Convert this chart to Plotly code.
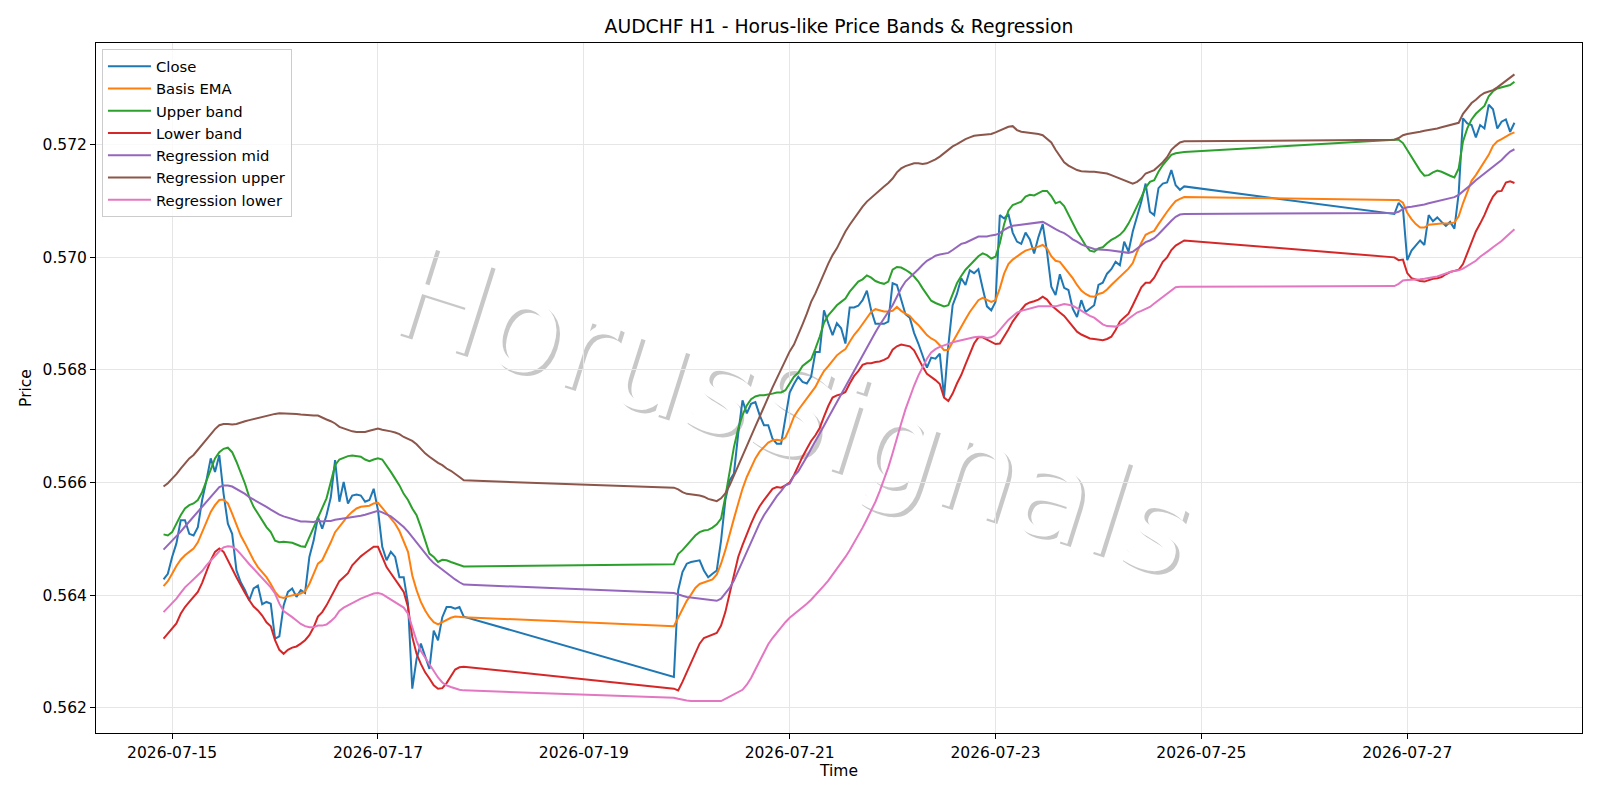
import pandas as pd
import plotly.graph_objects as go

# ---- time index: three trading blocks of hourly bars ----
seg_starts = ["2026-07-14 22:00", "2026-07-19 21:00", "2026-07-26 21:00"]
seg_lengths = [71, 120, 29]

# ---- series values ----
close = [
    0.56428, 0.56438, 0.56468, 0.56492, 0.56533, 0.56533, 0.56509, 0.56506, 0.56521, 0.56569,
    0.56604, 0.56643, 0.56619, 0.56649, 0.56580, 0.56527, 0.56509, 0.56444, 0.56423, 0.56409,
    0.56391, 0.56412, 0.56417, 0.56384, 0.56388, 0.56385, 0.56323, 0.56327, 0.56382, 0.56406,
    0.56412, 0.56397, 0.56409, 0.56404, 0.56468, 0.56497, 0.56539, 0.56518, 0.56542, 0.56574,
    0.56640, 0.56566, 0.56601, 0.56563, 0.56577, 0.56579, 0.56577, 0.56566, 0.56569, 0.56589,
    0.56551, 0.56486, 0.56462, 0.56477, 0.56468, 0.56432, 0.56432, 0.56385, 0.56234, 0.56287,
    0.56314, 0.56290, 0.56269, 0.56337, 0.56320, 0.56361, 0.56379, 0.56379, 0.56376, 0.56379,
    0.56362,
    0.56255, 0.56409, 0.56441, 0.56456, 0.56459, 0.56460, 0.56462, 0.56444, 0.56432, 0.56438,
    0.56444, 0.56497, 0.56569, 0.56604, 0.56616, 0.56687, 0.56746, 0.56723, 0.56740, 0.56743,
    0.56720, 0.56702, 0.56702, 0.56678, 0.56669, 0.56669, 0.56717, 0.56760, 0.56775, 0.56788,
    0.56779, 0.56776, 0.56788, 0.56832, 0.56832, 0.56906, 0.56883, 0.56862, 0.56883, 0.56874,
    0.56847, 0.56911, 0.56911, 0.56914, 0.56924, 0.56941, 0.56906, 0.56882, 0.56882, 0.56882,
    0.56886, 0.56954, 0.56951, 0.56927, 0.56899, 0.56893, 0.56866, 0.56847, 0.56825, 0.56804,
    0.56822, 0.56820, 0.56829, 0.56752, 0.56844, 0.56915, 0.56935, 0.56963, 0.56951, 0.56977,
    0.56972, 0.56979, 0.56945, 0.56913, 0.56906, 0.56921, 0.57075, 0.57069, 0.57077, 0.57044,
    0.57028, 0.57024, 0.57044, 0.57032, 0.57007, 0.57036, 0.57059, 0.57010, 0.56948, 0.56933,
    0.56970, 0.56946, 0.56942, 0.56909, 0.56894, 0.56924, 0.56903, 0.56909, 0.56915, 0.56951,
    0.56955, 0.56971, 0.56979, 0.56992, 0.56986, 0.57028, 0.57010, 0.57046, 0.57072, 0.57099,
    0.57131, 0.57081, 0.57075, 0.57123, 0.57131, 0.57133, 0.57155, 0.57128, 0.57120, 0.57126,
    0.57077, 0.57097, 0.57087, 0.56995, 0.57012, 0.57022, 0.57030, 0.57022, 0.57075, 0.57064,
    0.57071, 0.57063, 0.57056, 0.57063, 0.57051, 0.57114, 0.57247, 0.57238, 0.57235, 0.57213,
    0.57235, 0.57229, 0.57271, 0.57263, 0.57229, 0.57241, 0.57245, 0.57223, 0.57239,
]

basis_ema = [
    0.56416, 0.56425, 0.56438, 0.56452, 0.56463, 0.56471, 0.56477, 0.56483, 0.56494, 0.56512,
    0.56530, 0.56548, 0.56560, 0.56569, 0.56570, 0.56563, 0.56545, 0.56524, 0.56506, 0.56492,
    0.56477, 0.56462, 0.56450, 0.56441, 0.56432, 0.56420, 0.56406, 0.56397, 0.56395, 0.56398,
    0.56400, 0.56401, 0.56403, 0.56407, 0.56420, 0.56438, 0.56456, 0.56462, 0.56477, 0.56494,
    0.56512, 0.56522, 0.56532, 0.56541, 0.56548, 0.56554, 0.56557, 0.56558, 0.56559, 0.56563,
    0.56564, 0.56555, 0.56546, 0.56538, 0.56527, 0.56514, 0.56497, 0.56477, 0.56435, 0.56409,
    0.56388, 0.56373, 0.56361, 0.56352, 0.56348, 0.56352, 0.56355, 0.56360, 0.56362, 0.56362,
    0.56361,
    0.56345, 0.56361, 0.56376, 0.56390, 0.56401, 0.56413, 0.56420, 0.56423, 0.56425, 0.56428,
    0.56437, 0.56456, 0.56480, 0.56506, 0.56536, 0.56563, 0.56589, 0.56610, 0.56628, 0.56643,
    0.56655, 0.56663, 0.56671, 0.56675, 0.56676, 0.56675, 0.56680, 0.56697, 0.56717, 0.56729,
    0.56739, 0.56748, 0.56758, 0.56770, 0.56785, 0.56798, 0.56807, 0.56816, 0.56826, 0.56832,
    0.56837, 0.56850, 0.56862, 0.56871, 0.56882, 0.56894, 0.56903, 0.56908, 0.56906, 0.56904,
    0.56904, 0.56905, 0.56912, 0.56905, 0.56900, 0.56896, 0.56887, 0.56880, 0.56871, 0.56862,
    0.56856, 0.56852, 0.56844, 0.56835, 0.56836, 0.56850, 0.56864, 0.56877, 0.56890, 0.56903,
    0.56913, 0.56924, 0.56928, 0.56925, 0.56921, 0.56924, 0.56945, 0.56971, 0.56988, 0.56996,
    0.57002, 0.57007, 0.57012, 0.57014, 0.57016, 0.57019, 0.57022, 0.57016, 0.57002, 0.56994,
    0.56992, 0.56983, 0.56973, 0.56963, 0.56951, 0.56941, 0.56935, 0.56931, 0.56930, 0.56935,
    0.56937, 0.56943, 0.56951, 0.56958, 0.56966, 0.56973, 0.56980, 0.56990, 0.57010, 0.57026,
    0.57040, 0.57044, 0.57047, 0.57059, 0.57071, 0.57081, 0.57091, 0.57100, 0.57104, 0.57107,
    0.57102, 0.57102, 0.57097, 0.57079, 0.57068, 0.57059, 0.57053, 0.57053, 0.57058, 0.57059,
    0.57060, 0.57060, 0.57060, 0.57060, 0.57062, 0.57073, 0.57096, 0.57117, 0.57136, 0.57146,
    0.57158, 0.57170, 0.57182, 0.57198, 0.57206, 0.57210, 0.57215, 0.57219, 0.57222,
]

upper_band = [
    0.56508, 0.56506, 0.56512, 0.56527, 0.56542, 0.56554, 0.56560, 0.56563, 0.56569, 0.56583,
    0.56604, 0.56625, 0.56643, 0.56654, 0.56660, 0.56662, 0.56654, 0.56637, 0.56619, 0.56598,
    0.56574, 0.56557, 0.56545, 0.56533, 0.56521, 0.56512, 0.56497, 0.56494, 0.56495, 0.56494,
    0.56493, 0.56490, 0.56487, 0.56486, 0.56503, 0.56521, 0.56540, 0.56557, 0.56572, 0.56601,
    0.56631, 0.56641, 0.56644, 0.56647, 0.56648, 0.56647, 0.56646, 0.56641, 0.56638, 0.56641,
    0.56643, 0.56641, 0.56631, 0.56619, 0.56607, 0.56595, 0.56580, 0.56569, 0.56554, 0.56542,
    0.56521, 0.56497, 0.56474, 0.56468, 0.56459, 0.56463, 0.56462, 0.56459, 0.56456, 0.56453,
    0.56451,
    0.56455, 0.56473, 0.56480, 0.56489, 0.56499, 0.56506, 0.56512, 0.56515, 0.56516, 0.56520,
    0.56526, 0.56536, 0.56575, 0.56622, 0.56663, 0.56696, 0.56720, 0.56737, 0.56748, 0.56753,
    0.56755, 0.56755, 0.56756, 0.56758, 0.56760, 0.56760, 0.56764, 0.56777, 0.56788, 0.56795,
    0.56807, 0.56813, 0.56819, 0.56838, 0.56859, 0.56884, 0.56897, 0.56906, 0.56915, 0.56921,
    0.56927, 0.56939, 0.56949, 0.56957, 0.56961, 0.56968, 0.56964, 0.56958, 0.56955, 0.56953,
    0.56957, 0.56978, 0.56983, 0.56982, 0.56978, 0.56973, 0.56966, 0.56957, 0.56945, 0.56933,
    0.56923, 0.56919, 0.56916, 0.56913, 0.56915, 0.56936, 0.56954, 0.56967, 0.56978, 0.56986,
    0.56995, 0.57002, 0.57007, 0.57004, 0.56998, 0.57001, 0.57025, 0.57059, 0.57083, 0.57093,
    0.57096, 0.57099, 0.57108, 0.57111, 0.57110, 0.57114, 0.57118, 0.57118, 0.57109, 0.57096,
    0.57099, 0.57091, 0.57075, 0.57060, 0.57046, 0.57034, 0.57021, 0.57012, 0.57010, 0.57016,
    0.57018, 0.57025, 0.57031, 0.57035, 0.57040, 0.57048, 0.57060, 0.57075, 0.57090, 0.57107,
    0.57124, 0.57134, 0.57137, 0.57152, 0.57164, 0.57173, 0.57182, 0.57185, 0.57186, 0.57187,
    0.57209, 0.57209, 0.57203, 0.57191, 0.57179, 0.57166, 0.57154, 0.57145, 0.57146, 0.57151,
    0.57154, 0.57152, 0.57148, 0.57145, 0.57142, 0.57158, 0.57206, 0.57229, 0.57245, 0.57255,
    0.57262, 0.57269, 0.57286, 0.57295, 0.57300, 0.57302, 0.57303, 0.57306, 0.57312,
]

lower_band = [
    0.56323, 0.56332, 0.56340, 0.56350, 0.56367, 0.56379, 0.56388, 0.56397, 0.56406, 0.56422,
    0.56441, 0.56462, 0.56477, 0.56483, 0.56477, 0.56463, 0.56447, 0.56432, 0.56417, 0.56404,
    0.56391, 0.56380, 0.56373, 0.56364, 0.56352, 0.56345, 0.56320, 0.56303, 0.56296, 0.56303,
    0.56307, 0.56309, 0.56314, 0.56320, 0.56329, 0.56343, 0.56362, 0.56370, 0.56382, 0.56397,
    0.56410, 0.56425, 0.56432, 0.56439, 0.56453, 0.56462, 0.56469, 0.56475, 0.56481, 0.56486,
    0.56486, 0.56469, 0.56450, 0.56439, 0.56429, 0.56417, 0.56406, 0.56379, 0.56326, 0.56296,
    0.56278, 0.56263, 0.56252, 0.56240, 0.56234, 0.56235, 0.56244, 0.56257, 0.56268, 0.56272,
    0.56273,
    0.56234, 0.56231, 0.56246, 0.56263, 0.56281, 0.56299, 0.56314, 0.56324, 0.56327, 0.56329,
    0.56333, 0.56346, 0.56370, 0.56403, 0.56435, 0.56468, 0.56489, 0.56509, 0.56527, 0.56544,
    0.56558, 0.56569, 0.56579, 0.56589, 0.56592, 0.56591, 0.56595, 0.56600, 0.56613, 0.56631,
    0.56646, 0.56660, 0.56674, 0.56684, 0.56697, 0.56717, 0.56736, 0.56751, 0.56755, 0.56757,
    0.56761, 0.56776, 0.56789, 0.56798, 0.56809, 0.56812, 0.56812, 0.56814, 0.56815, 0.56818,
    0.56822, 0.56836, 0.56842, 0.56845, 0.56844, 0.56842, 0.56835, 0.56820, 0.56806, 0.56793,
    0.56788, 0.56782, 0.56775, 0.56751, 0.56745, 0.56758, 0.56776, 0.56791, 0.56810, 0.56829,
    0.56847, 0.56858, 0.56858, 0.56854, 0.56850, 0.56846, 0.56847, 0.56859, 0.56872, 0.56886,
    0.56897, 0.56907, 0.56916, 0.56920, 0.56922, 0.56925, 0.56930, 0.56925, 0.56915, 0.56908,
    0.56902, 0.56896, 0.56887, 0.56878, 0.56868, 0.56863, 0.56859, 0.56856, 0.56855, 0.56854,
    0.56853, 0.56855, 0.56859, 0.56871, 0.56886, 0.56893, 0.56900, 0.56915, 0.56930, 0.56947,
    0.56955, 0.56955, 0.56964, 0.56979, 0.56992, 0.57000, 0.57013, 0.57021, 0.57026, 0.57030,
    0.57000, 0.56995, 0.56996, 0.56972, 0.56963, 0.56960, 0.56958, 0.56957, 0.56960, 0.56962,
    0.56963, 0.56965, 0.56970, 0.56974, 0.56976, 0.56978, 0.56988, 0.57007, 0.57028, 0.57046,
    0.57060, 0.57075, 0.57093, 0.57108, 0.57117, 0.57118, 0.57133, 0.57135, 0.57132,
]

regression_mid = [
    0.56481, 0.56489, 0.56496, 0.56505, 0.56513, 0.56522, 0.56531, 0.56539, 0.56548, 0.56558,
    0.56567, 0.56576, 0.56585, 0.56592, 0.56595, 0.56595, 0.56593, 0.56589, 0.56585, 0.56580,
    0.56574, 0.56570, 0.56566, 0.56561, 0.56557, 0.56552, 0.56547, 0.56543, 0.56540, 0.56538,
    0.56535, 0.56533, 0.56531, 0.56531, 0.56530, 0.56530, 0.56532, 0.56531, 0.56532, 0.56532,
    0.56534, 0.56535, 0.56536, 0.56537, 0.56538, 0.56540, 0.56541, 0.56543, 0.56545, 0.56547,
    0.56550, 0.56547, 0.56544, 0.56540, 0.56534, 0.56528, 0.56521, 0.56513, 0.56503, 0.56493,
    0.56483, 0.56474, 0.56465, 0.56457, 0.56451, 0.56445, 0.56439, 0.56434, 0.56428, 0.56423,
    0.56419,
    0.56404, 0.56401, 0.56399, 0.56397, 0.56396, 0.56395, 0.56394, 0.56393, 0.56392, 0.56391,
    0.56390, 0.56394, 0.56404, 0.56413, 0.56426, 0.56443, 0.56459, 0.56477, 0.56494, 0.56512,
    0.56528, 0.56542, 0.56554, 0.56566, 0.56576, 0.56585, 0.56595, 0.56598, 0.56612, 0.56620,
    0.56632, 0.56646, 0.56660, 0.56673, 0.56687, 0.56701, 0.56715, 0.56729, 0.56743, 0.56757,
    0.56770, 0.56784, 0.56798, 0.56812, 0.56826, 0.56840, 0.56854, 0.56867, 0.56880, 0.56892,
    0.56903, 0.56915, 0.56930, 0.56945, 0.56957, 0.56964, 0.56972, 0.56979, 0.56987, 0.56994,
    0.56998, 0.57003, 0.57005, 0.57006, 0.57008, 0.57013, 0.57018, 0.57024, 0.57026, 0.57030,
    0.57034, 0.57037, 0.57037, 0.57037, 0.57039, 0.57040, 0.57043, 0.57049, 0.57053, 0.57056,
    0.57057, 0.57058, 0.57059, 0.57060, 0.57062, 0.57062, 0.57063, 0.57059, 0.57054, 0.57050,
    0.57046, 0.57043, 0.57038, 0.57032, 0.57028, 0.57023, 0.57020, 0.57017, 0.57015, 0.57014,
    0.57014, 0.57013, 0.57012, 0.57011, 0.57010, 0.57009, 0.57008, 0.57010, 0.57016, 0.57021,
    0.57027, 0.57030, 0.57034, 0.57041, 0.57050, 0.57057, 0.57065, 0.57072, 0.57076, 0.57077,
    0.57079, 0.57081, 0.57086, 0.57089, 0.57090, 0.57091, 0.57092, 0.57094, 0.57096, 0.57098,
    0.57099, 0.57102, 0.57104, 0.57106, 0.57107, 0.57111, 0.57117, 0.57123, 0.57130, 0.57137,
    0.57143, 0.57150, 0.57156, 0.57161, 0.57167, 0.57173, 0.57181, 0.57188, 0.57192,
]

regression_upper = [
    0.56593, 0.56599, 0.56607, 0.56615, 0.56625, 0.56634, 0.56643, 0.56649, 0.56658, 0.56667,
    0.56677, 0.56686, 0.56695, 0.56702, 0.56704, 0.56704, 0.56703, 0.56704, 0.56707, 0.56709,
    0.56711, 0.56713, 0.56715, 0.56717, 0.56718, 0.56721, 0.56722, 0.56723, 0.56723, 0.56723,
    0.56723, 0.56722, 0.56721, 0.56720, 0.56720, 0.56719, 0.56719, 0.56715, 0.56712, 0.56709,
    0.56705, 0.56699, 0.56696, 0.56693, 0.56691, 0.56690, 0.56690, 0.56690, 0.56692, 0.56694,
    0.56696, 0.56694, 0.56693, 0.56691, 0.56689, 0.56686, 0.56681, 0.56678, 0.56674, 0.56668,
    0.56659, 0.56652, 0.56646, 0.56640, 0.56635, 0.56631, 0.56625, 0.56621, 0.56616, 0.56610,
    0.56604,
    0.56591, 0.56588, 0.56583, 0.56580, 0.56579, 0.56579, 0.56577, 0.56575, 0.56571, 0.56569,
    0.56567, 0.56572, 0.56581, 0.56595, 0.56613, 0.56631, 0.56649, 0.56666, 0.56684, 0.56700,
    0.56717, 0.56735, 0.56752, 0.56769, 0.56785, 0.56801, 0.56817, 0.56833, 0.56845, 0.56862,
    0.56881, 0.56900, 0.56921, 0.56936, 0.56954, 0.56970, 0.56989, 0.57004, 0.57016, 0.57031,
    0.57046, 0.57058, 0.57069, 0.57081, 0.57090, 0.57099, 0.57106, 0.57113, 0.57120, 0.57126,
    0.57132, 0.57140, 0.57151, 0.57158, 0.57162, 0.57165, 0.57167, 0.57167, 0.57166, 0.57167,
    0.57170, 0.57174, 0.57179, 0.57185, 0.57191, 0.57197, 0.57201, 0.57206, 0.57210, 0.57213,
    0.57216, 0.57217, 0.57218, 0.57218, 0.57219, 0.57222, 0.57225, 0.57229, 0.57232, 0.57233,
    0.57226, 0.57223, 0.57222, 0.57222, 0.57220, 0.57219, 0.57217, 0.57211, 0.57204, 0.57191,
    0.57179, 0.57169, 0.57163, 0.57159, 0.57155, 0.57153, 0.57152, 0.57152, 0.57152, 0.57151,
    0.57150, 0.57149, 0.57146, 0.57143, 0.57140, 0.57137, 0.57133, 0.57131, 0.57134, 0.57140,
    0.57149, 0.57152, 0.57155, 0.57162, 0.57169, 0.57178, 0.57191, 0.57198, 0.57204, 0.57206,
    0.57209, 0.57212, 0.57217, 0.57219, 0.57220, 0.57222, 0.57223, 0.57225, 0.57226, 0.57228,
    0.57229, 0.57231, 0.57233, 0.57235, 0.57236, 0.57239, 0.57255, 0.57265, 0.57274, 0.57280,
    0.57287, 0.57292, 0.57295, 0.57297, 0.57302, 0.57308, 0.57313, 0.57319, 0.57325,
]

regression_lower = [
    0.56370, 0.56378, 0.56385, 0.56394, 0.56404, 0.56414, 0.56421, 0.56428, 0.56436, 0.56443,
    0.56453, 0.56462, 0.56471, 0.56478, 0.56485, 0.56487, 0.56486, 0.56481, 0.56473, 0.56463,
    0.56455, 0.56447, 0.56439, 0.56431, 0.56422, 0.56414, 0.56403, 0.56385, 0.56372, 0.56367,
    0.56361, 0.56355, 0.56349, 0.56345, 0.56343, 0.56343, 0.56346, 0.56346, 0.56348, 0.56354,
    0.56361, 0.56372, 0.56378, 0.56382, 0.56386, 0.56391, 0.56394, 0.56397, 0.56400, 0.56403,
    0.56404, 0.56402, 0.56397, 0.56392, 0.56387, 0.56383, 0.56378, 0.56367, 0.56341, 0.56319,
    0.56301, 0.56289, 0.56277, 0.56265, 0.56254, 0.56245, 0.56240, 0.56237, 0.56234, 0.56232,
    0.56231,
    0.56218, 0.56216, 0.56214, 0.56213, 0.56212, 0.56212, 0.56212, 0.56212, 0.56212, 0.56211,
    0.56211, 0.56212, 0.56216, 0.56220, 0.56224, 0.56227, 0.56232, 0.56241, 0.56253, 0.56268,
    0.56284, 0.56299, 0.56313, 0.56324, 0.56334, 0.56343, 0.56352, 0.56360, 0.56366, 0.56372,
    0.56378, 0.56385, 0.56392, 0.56400, 0.56408, 0.56417, 0.56426, 0.56436, 0.56446, 0.56456,
    0.56468, 0.56480, 0.56493, 0.56506, 0.56520, 0.56535, 0.56550, 0.56566, 0.56585, 0.56605,
    0.56627, 0.56652, 0.56680, 0.56705, 0.56730, 0.56752, 0.56772, 0.56790, 0.56806, 0.56820,
    0.56831, 0.56837, 0.56841, 0.56844, 0.56847, 0.56849, 0.56851, 0.56853, 0.56855, 0.56857,
    0.56858, 0.56859, 0.56859, 0.56857, 0.56858, 0.56862, 0.56872, 0.56880, 0.56889, 0.56896,
    0.56902, 0.56905, 0.56907, 0.56909, 0.56911, 0.56913, 0.56913, 0.56913, 0.56912, 0.56913,
    0.56915, 0.56917, 0.56916, 0.56914, 0.56910, 0.56905, 0.56900, 0.56896, 0.56893, 0.56887,
    0.56881, 0.56878, 0.56877, 0.56877, 0.56880, 0.56884, 0.56891, 0.56897, 0.56902, 0.56905,
    0.56909, 0.56912, 0.56918, 0.56924, 0.56930, 0.56936, 0.56942, 0.56947, 0.56948, 0.56948,
    0.56949, 0.56953, 0.56959, 0.56960, 0.56960, 0.56960, 0.56961, 0.56962, 0.56963, 0.56964,
    0.56966, 0.56969, 0.56972, 0.56974, 0.56976, 0.56977, 0.56980, 0.56985, 0.56989, 0.56994,
    0.57001, 0.57006, 0.57012, 0.57018, 0.57023, 0.57029, 0.57036, 0.57043, 0.57050,
]

series_names = ["Close", "Basis EMA", "Upper band", "Lower band",
                "Regression mid", "Regression upper", "Regression lower"]
y_ticks = [0.562, 0.564, 0.566, 0.568, 0.570, 0.572]
x_ticks = ["2026-07-15", "2026-07-17", "2026-07-19", "2026-07-21",
           "2026-07-23", "2026-07-25", "2026-07-27"]
watermark = "HorusSignals"

# ---- build figure ----
times = []
for s, n in zip(seg_starts, seg_lengths):
    times.extend(pd.date_range(s, periods=n, freq="h"))
times = pd.DatetimeIndex(times)

all_series = [close, basis_ema, upper_band, lower_band,
              regression_mid, regression_upper, regression_lower]
colors = ["#1f77b4", "#ff7f0e", "#2ca02c", "#d62728",
          "#9467bd", "#8c564b", "#e377c2"]

fig = go.Figure()
for name, vals, col in zip(series_names, all_series, colors):
    fig.add_trace(go.Scatter(x=times, y=vals, mode="lines", name=name,
                             line=dict(color=col, width=2)))

# matplotlib-like 5% data margins
tmin, tmax = times.min(), times.max()
tpad = (tmax - tmin) * 0.05
ymin = min(min(v) for v in all_series)
ymax = max(max(v) for v in all_series)
ypad = (ymax - ymin) * 0.05

FONT = "DejaVu Sans"
TICK = 15.5
fig.update_layout(
    width=1600, height=800,
    margin=dict(l=96, r=18, t=43, b=67),
    paper_bgcolor="white", plot_bgcolor="white",
    font=dict(family=FONT, size=TICK, color="black"),
    title=dict(text="AUDCHF H1 - Horus-like Price Bands & Regression",
               x=(96 + (1600 - 18)) / 2 / 1600, xanchor="center",
               y=1 - 26 / 800, yanchor="middle", yref="container",
               font=dict(family=FONT, size=18.8, color="black")),
    showlegend=True,
    legend=dict(x=0.004, y=0.991, xanchor="left", yanchor="top",
                bgcolor="rgba(255,255,255,0.8)", bordercolor="#cccccc",
                borderwidth=1, font=dict(family=FONT, size=14.8),
                tracegroupgap=0, itemwidth=43),
)
fig.update_xaxes(
    range=[tmin - tpad, tmax + tpad], type="date",
    tickvals=pd.to_datetime(x_ticks), ticktext=x_ticks,
    showline=True, mirror=True, linecolor="black", linewidth=1,
    ticks="outside", ticklen=5, tickwidth=1, tickcolor="black",
    showgrid=True, gridcolor="#e6e6e6", gridwidth=1, zeroline=False,
    tickfont=dict(family=FONT, size=TICK),
    title=dict(text="Time", font=dict(family=FONT, size=TICK), standoff=4),
)
fig.update_yaxes(
    range=[ymin - ypad, ymax + ypad],
    tickvals=y_ticks, ticktext=[f"{v:.3f}" for v in y_ticks],
    showline=True, mirror=True, linecolor="black", linewidth=1,
    ticks="outside", ticklen=5, tickwidth=1, tickcolor="black",
    showgrid=True, gridcolor="#e6e6e6", gridwidth=1, zeroline=False,
    tickfont=dict(family=FONT, size=TICK),
    title=dict(text="Price", font=dict(family=FONT, size=TICK), standoff=7),
)

# watermark (behind the data lines)
cx, cy = 0.471, 0.479
for dx, dy, colr in [(0.0024, -0.005, "rgba(110,110,110,0.38)"),
                     (0.0, 0.0, "rgba(255,255,255,1)")]:
    fig.add_shape(type="rect", xref="paper", yref="paper",
                  x0=cx + dx - 0.3, x1=cx + dx + 0.3,
                  y0=cy + dy - 0.3, y1=cy + dy + 0.3,
                  line=dict(width=0), fillcolor="rgba(0,0,0,0)",
                  layer="between",
                  label=dict(text=watermark, textangle=17.5,
                             textposition="middle center",
                             font=dict(family=FONT, size=127, color=colr)))

fig.write_html("out.html")
